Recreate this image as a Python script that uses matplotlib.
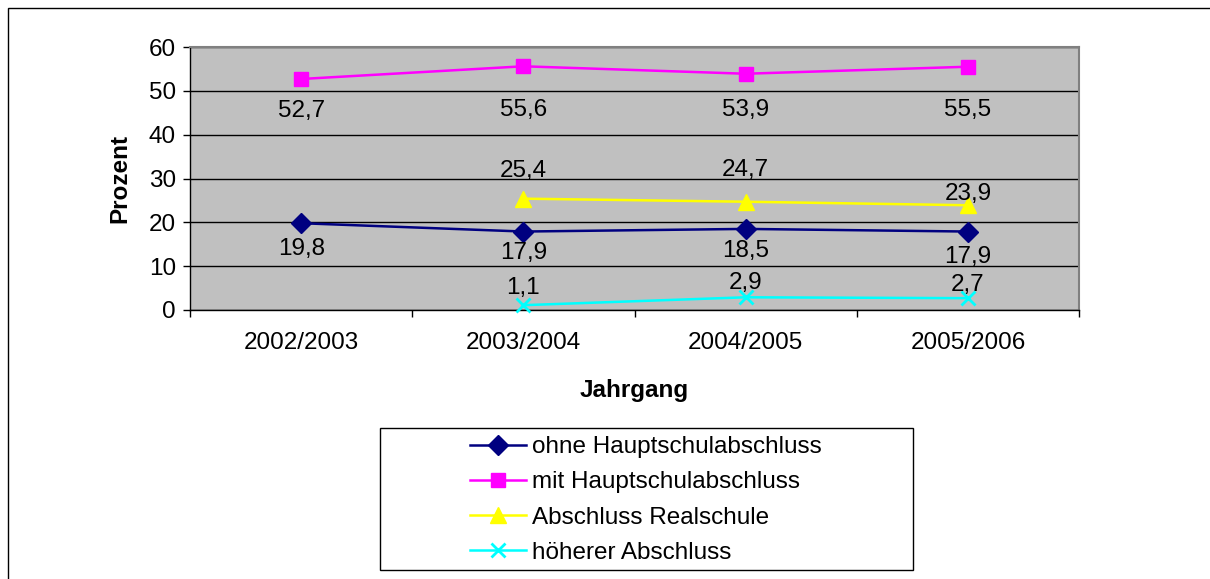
import numpy as np
import matplotlib.pyplot as plt
from matplotlib.patches import Rectangle

plt.rcParams['font.family'] = ['Liberation Sans', 'DejaVu Sans']

jahrgaenge = ['2002/2003', '2003/2004', '2004/2005', '2005/2006']
ohne_hs = [19.8, 17.9, 18.5, 17.9]
mit_hs = [52.7, 55.6, 53.9, 55.5]
realschule = [None, 25.4, 24.7, 23.9]
hoeher = [None, 1.1, 2.9, 2.7]

# label-abstaende in pt (wie im original verschoben)
off_ohne = [-17, -14, -14, -16.5]
off_mit = [-21, -29.5, -24, -29]
off_real = [0, 22, 24.5, 10]
off_hoeher = [0, 14, 12, 11]

series = [
    ('ohne Hauptschulabschluss', ohne_hs, '#000080', 'D', 10, off_ohne),
    ('mit Hauptschulabschluss', mit_hs, '#FF00FF', 's', 10.5, off_mit),
    ('Abschluss Realschule', realschule, '#FFFF00', '^', 11, off_real),
    ('höherer Abschluss', hoeher, '#00FFFF', 'x', 10, off_hoeher),
]

fs = 17.5

fig = plt.figure(figsize=(12.1, 5.79), dpi=100)
fig.patches.append(Rectangle((8 / 1210, -0.1), 1.2, 1.1 - 8 / 579,
                             transform=fig.transFigure, fill=False,
                             edgecolor='black', linewidth=1))

ax = fig.add_axes([190 / 1210, 1 - 310 / 579, 889 / 1210, 263 / 579])
ax.set_facecolor('#C0C0C0')
for s in ax.spines.values():
    s.set_color('#808080')
    s.set_linewidth(1.5)
ax.spines['left'].set_color('black')
ax.spines['bottom'].set_color('black')
ax.spines['left'].set_linewidth(1)
ax.spines['bottom'].set_linewidth(1)

x = np.arange(len(jahrgaenge))
for name, vals, col, mk, ms, offs in series:
    xs = [xi for xi, v in zip(x, vals) if v is not None]
    ys = [v for v in vals if v is not None]
    os_ = [o for o, v in zip(offs, vals) if v is not None]
    ax.plot(xs, ys, color=col, marker=mk, markersize=ms, linewidth=1.8,
            markeredgewidth=2 if mk == 'x' else 1, markeredgecolor=col,
            label=name, clip_on=False, zorder=3)
    for xi, v, o in zip(xs, ys, os_):
        ax.annotate(f'{v:.1f}'.replace('.', ','), (xi, v),
                    xytext=(0, o), textcoords='offset points',
                    ha='center', va='center_baseline', fontsize=fs, zorder=4)

ax.set_xlim(-0.5, 3.5)
ax.set_ylim(0, 60)
ax.set_yticks(range(0, 61, 10))
ax.tick_params(axis='y', labelsize=fs, direction='out', length=5, width=1, pad=5)
ax.set_xticks(x)
ax.set_xticklabels(jahrgaenge)
ax.tick_params(axis='x', which='major', length=0, labelsize=fs, pad=16)
ax.set_xticks(np.arange(-0.5, 4, 1), minor=True)
ax.tick_params(axis='x', which='minor', direction='out', length=5, width=1)
ax.yaxis.grid(True, color='black', linewidth=1)
ax.set_axisbelow(True)

ax.set_ylabel('Prozent', fontsize=fs, fontweight='bold', labelpad=13)
ax.set_xlabel('Jahrgang', fontsize=fs, fontweight='bold', labelpad=18)

fig.patches.append(Rectangle((380 / 1210, 1 - 570 / 579), 533 / 1210, 142 / 579,
                             transform=fig.transFigure, fill=False,
                             edgecolor='black', linewidth=1))
handles, labels = ax.get_legend_handles_labels()
fig.legend(handles, labels, loc='center', bbox_to_anchor=(646 / 1210, 1 - 500 / 579),
           frameon=False, fontsize=fs, handlelength=2.3, labelspacing=0.54,
           handletextpad=0.25)

fig.savefig('out.png', dpi=100)
